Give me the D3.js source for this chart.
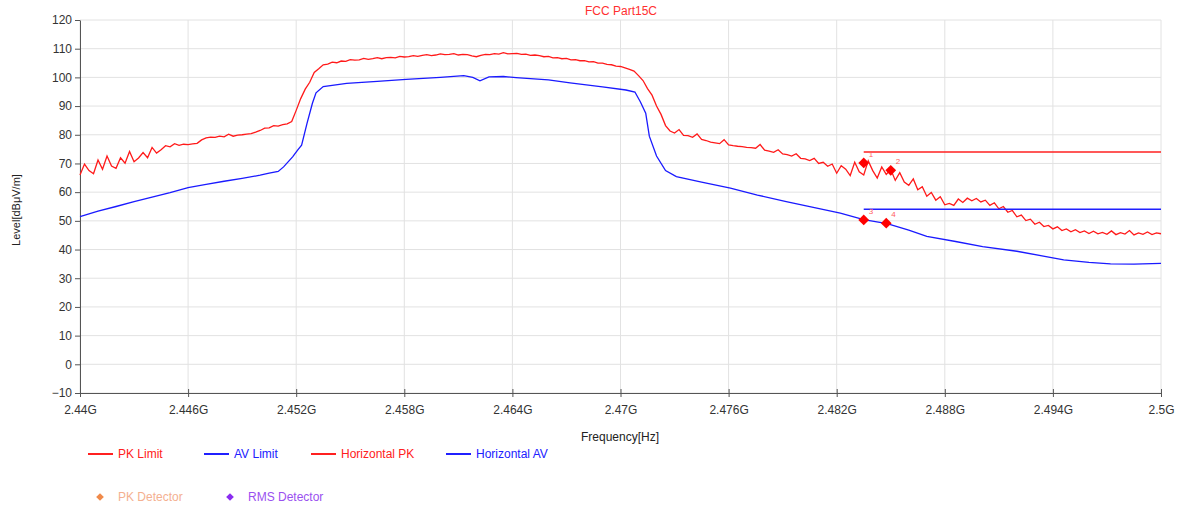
<!DOCTYPE html>
<html>
<head>
<meta charset="utf-8">
<script src="https://cdn.jsdelivr.net/npm/d3@7"></script>
<style>
  body { margin: 0; background: #fff; }
  svg { font-family: "Liberation Sans", Arial, sans-serif; }
</style>
</head>
<body>
<svg id="chart" width="1182" height="509"></svg>
<script>
// sweep grid of the PK trace (GHz)
var pkStart = 2.44, pkStep = 0.00025;
var pkLevel = [
  66.0, 69.8, 67.5, 66.4, 71.2, 68.0, 72.6, 69.1, 68.3, 72.0,
  70.1, 74.2, 70.6, 71.9, 73.8, 72.0, 75.6, 73.6, 74.8, 76.2,
  75.8, 76.9, 76.3, 76.7, 76.6, 76.8, 77.0, 78.2, 78.9, 79.2,
  79.1, 79.5, 79.3, 80.2, 79.5, 79.9, 80.0, 80.2, 80.4, 80.9,
  81.5, 82.3, 82.4, 83.2, 83.0, 83.5, 83.8, 84.6, 88.5, 92.6,
  95.9, 98.3, 101.7, 103.0, 104.4, 104.6, 105.3, 105.1, 105.7, 105.6,
  106.2, 106.0, 106.1, 106.6, 106.3, 106.5, 106.9, 106.5, 106.9, 107.0,
  106.8, 107.3, 107.1, 107.2, 107.6, 107.3, 107.7, 107.9, 107.6, 107.8,
  108.2, 107.9, 108.0, 108.3, 107.8, 108.0, 107.9, 107.5, 107.2, 107.7,
  108.0, 107.9, 108.3, 108.1, 108.6, 108.2, 108.3, 108.4, 108.0, 108.1,
  107.7, 107.8, 107.6, 107.2, 107.3, 106.8, 106.9, 106.5, 106.6, 106.1,
  106.2, 105.8, 105.8, 105.4, 105.5, 105.0, 105.0, 104.5, 104.4, 103.9,
  103.8, 103.3, 102.8, 102.2, 100.6, 98.9, 96.1, 93.8, 90.0, 87.1,
  83.2, 81.3, 80.6, 81.8, 79.8, 79.7, 79.1, 80.3, 78.4, 78.0,
  77.4, 77.2, 76.9, 78.3, 76.5, 76.2, 76.0, 75.9, 75.6, 75.5,
  75.3, 76.6, 74.6, 74.3, 73.9, 74.8, 73.3, 73.1, 72.6, 73.4,
  71.8, 71.6, 71.0, 71.8, 70.0, 70.4, 69.0, 69.8, 66.6, 69.2,
  68.0, 65.8, 70.4, 67.1, 66.0, 70.9, 67.5, 64.9, 68.8, 66.2,
  67.9, 64.1, 66.8, 63.5, 62.4, 64.6, 60.8, 61.9, 58.6, 59.9,
  57.2, 58.4, 55.6, 56.1, 55.4, 57.6, 56.4, 57.9, 57.0, 57.8,
  56.6, 57.2, 55.4, 56.3, 54.2, 55.0, 53.0, 53.6, 51.4, 52.0,
  50.1, 50.6, 48.8, 49.5, 48.0, 48.4, 47.2, 47.9, 46.6, 47.2,
  46.2, 46.9, 45.9, 46.5, 45.6, 46.4, 45.5, 46.0, 45.3, 46.5,
  45.2, 45.9, 45.4, 46.6, 45.1, 45.8, 45.3, 46.1, 45.2, 45.8,
  45.5
];

var avFreq = [2.4400, 2.4410, 2.4420, 2.4430, 2.4440, 2.4450, 2.4460, 2.4470, 2.4480, 2.4490,
  2.4500, 2.4505, 2.4510, 2.4513, 2.4518, 2.4521, 2.4523, 2.4526, 2.4529, 2.4531,
  2.4535, 2.4548, 2.4565, 2.4581, 2.4600, 2.4613, 2.4618, 2.4622, 2.4627, 2.4635,
  2.4642, 2.4660, 2.4672, 2.4690, 2.4703, 2.4708, 2.4711, 2.4714, 2.4716, 2.4720,
  2.4725, 2.4731, 2.4745, 2.4761, 2.4776, 2.4792, 2.4807, 2.4822, 2.4835, 2.4848,
  2.4860, 2.4870, 2.4886, 2.4901, 2.4920, 2.4946, 2.4960, 2.4972, 2.4985, 2.5000];
var avLevel = [51.5, 53.4, 55.0, 56.7, 58.3, 59.8, 61.6, 62.7, 63.8, 64.8,
  65.9, 66.6, 67.2, 68.8, 72.3, 74.8, 76.4, 84.0, 91.0, 94.6,
  96.8, 97.9, 98.6, 99.3, 100.0, 100.6, 100.0, 98.8, 100.2, 100.3,
  99.9, 99.1, 98.1, 96.7, 95.6, 94.9, 91.5, 87.5, 79.5, 72.6,
  67.5, 65.4, 63.5, 61.4, 59.0, 56.7, 54.7, 52.7, 50.4, 49.0,
  46.8, 44.6, 42.8, 41.0, 39.4, 36.4, 35.5, 35.0, 34.9, 35.2];

// limits (start, stop GHz) and levels
var limitRange = [2.4835, 2.5];
var pkLimit = 74, avLimit = 54;

var markerNo = ['1', '2', '3', '4'];
var markerFreq = [2.4835, 2.4850, 2.4835, 2.48475];
var markerLevel = [70.2, 67.6, 50.3, 49.2];

var xTicks = [2.44, 2.446, 2.452, 2.458, 2.464, 2.47, 2.476, 2.482, 2.488, 2.494, 2.5];
var xTickLabels = ['2.44G', '2.446G', '2.452G', '2.458G', '2.464G', '2.47G', '2.476G', '2.482G', '2.488G', '2.494G', '2.5G'];
var yTicks = [-10, 0, 10, 20, 30, 40, 50, 60, 70, 80, 90, 100, 110, 120];

var legendNames = ['PK Limit', 'AV Limit', 'Horizontal PK', 'Horizontal AV'];
var legendColors = ['#ff2020', '#2020ff', '#ff2020', '#2020ff'];

var svg = d3.select('#chart');
var margin = {top: 20, right: 21, bottom: 116, left: 80};
var width = 1182 - margin.left - margin.right,
    height = 509 - margin.top - margin.bottom;

var x = d3.scaleLinear().domain([2.44, 2.5]).range([0, width]);
var y = d3.scaleLinear().domain([-10, 120]).range([height, 0]);

var g = svg.append('g').attr('transform', 'translate(' + margin.left + ',' + margin.top + ')');

// grid
g.selectAll('.hgrid').data(yTicks).enter().append('line')
    .attr('x1', 0).attr('x2', width)
    .attr('y1', function (d) { return y(d); }).attr('y2', function (d) { return y(d); })
    .attr('stroke', '#e2e2e2');
g.selectAll('.vgrid').data(xTicks).enter().append('line')
    .attr('x1', function (d) { return x(d); }).attr('x2', function (d) { return x(d); })
    .attr('y1', 0).attr('y2', height)
    .attr('stroke', '#e2e2e2');

// axes
var yAxis = g.append('g')
    .call(d3.axisLeft(y).tickValues(yTicks).tickSize(5).tickSizeOuter(0).tickPadding(3));
var xAxis = g.append('g')
    .attr('transform', 'translate(0,' + height + ')')
    .call(d3.axisBottom(x).tickValues(xTicks).tickSize(4).tickSizeOuter(0).tickPadding(8)
        .tickFormat(function (d, i) { return xTickLabels[i]; }));
xAxis.selectAll('.tick line').attr('y1', -4);
[xAxis, yAxis].forEach(function (a) {
    a.select('.domain').attr('stroke', '#555');
    a.selectAll('.tick line').attr('stroke', '#555');
    a.selectAll('text').attr('fill', '#333').attr('font-size', 12)
        .attr('font-family', '"Liberation Sans", Arial, sans-serif');
});

// traces
var pkData = pkLevel.map(function (v, i) { return {f: pkStart + i * pkStep, v: v}; });
var avData = avFreq.map(function (f, i) { return {f: f, v: avLevel[i]}; });

var line = d3.line()
    .x(function (d) { return x(d.f); })
    .y(function (d) { return y(d.v); });

g.append('path').datum(avData)
    .attr('d', line).attr('fill', 'none')
    .attr('stroke', '#1a1aff').attr('stroke-width', 1.3);
g.append('path').datum(pkData)
    .attr('d', line).attr('fill', 'none')
    .attr('stroke', '#ff1a1a').attr('stroke-width', 1.3);

// limit lines
g.append('line')
    .attr('x1', x(limitRange[0])).attr('x2', x(limitRange[1]))
    .attr('y1', y(pkLimit)).attr('y2', y(pkLimit))
    .attr('stroke', '#ff2020').attr('stroke-width', 1.5);
g.append('line')
    .attr('x1', x(limitRange[0])).attr('x2', x(limitRange[1]))
    .attr('y1', y(avLimit)).attr('y2', y(avLimit))
    .attr('stroke', '#2020ff').attr('stroke-width', 1.5);

// markers (rotated squares)
var square = d3.symbol().type(d3.symbolSquare).size(58);
markerFreq.forEach(function (f, i) {
    g.append('path')
        .attr('d', square)
        .attr('transform', 'translate(' + x(f) + ',' + y(markerLevel[i]) + ') rotate(45)')
        .attr('fill', '#ff0000');
    g.append('text')
        .attr('x', x(f) + 5).attr('y', y(markerLevel[i]) - 6)
        .attr('font-size', 8).attr('fill', '#ff6060')
        .text(markerNo[i]);
});

// titles
svg.append('text')
    .attr('x', 621).attr('y', 15)
    .attr('text-anchor', 'middle').attr('font-size', 12).attr('fill', '#ff3030')
    .text('FCC Part15C');
svg.append('text')
    .attr('transform', 'translate(20,210) rotate(-90)')
    .attr('text-anchor', 'middle').attr('font-size', 11).attr('fill', '#222')
    .text('Level[dBμV/m]');
svg.append('text')
    .attr('x', 620).attr('y', 441)
    .attr('text-anchor', 'middle').attr('font-size', 12).attr('fill', '#222')
    .text('Frequency[Hz]');

// legend
var legX = [88, 204, 311, 446];
legendNames.forEach(function (name, i) {
    svg.append('line')
        .attr('x1', legX[i]).attr('x2', legX[i] + 25)
        .attr('y1', 454).attr('y2', 454)
        .attr('stroke', legendColors[i]).attr('stroke-width', 2);
    svg.append('text')
        .attr('x', legX[i] + 30).attr('y', 458)
        .attr('font-size', 12).attr('fill', legendColors[i])
        .text(name);
});

var detNames = ['PK Detector', 'RMS Detector'];
var detColors = ['#f08a4a', '#8a2cf0'];
var detTextColors = ['#f4b090', '#9a50f0'];
var detX = [100, 230];
detNames.forEach(function (name, i) {
    svg.append('path')
        .attr('d', d3.symbol().type(d3.symbolSquare).size(30))
        .attr('transform', 'translate(' + detX[i] + ',497) rotate(45)')
        .attr('fill', detColors[i]);
    svg.append('text')
        .attr('x', detX[i] + 18).attr('y', 501)
        .attr('font-size', 12).attr('fill', detTextColors[i])
        .text(name);
});
</script>
</body>
</html>
